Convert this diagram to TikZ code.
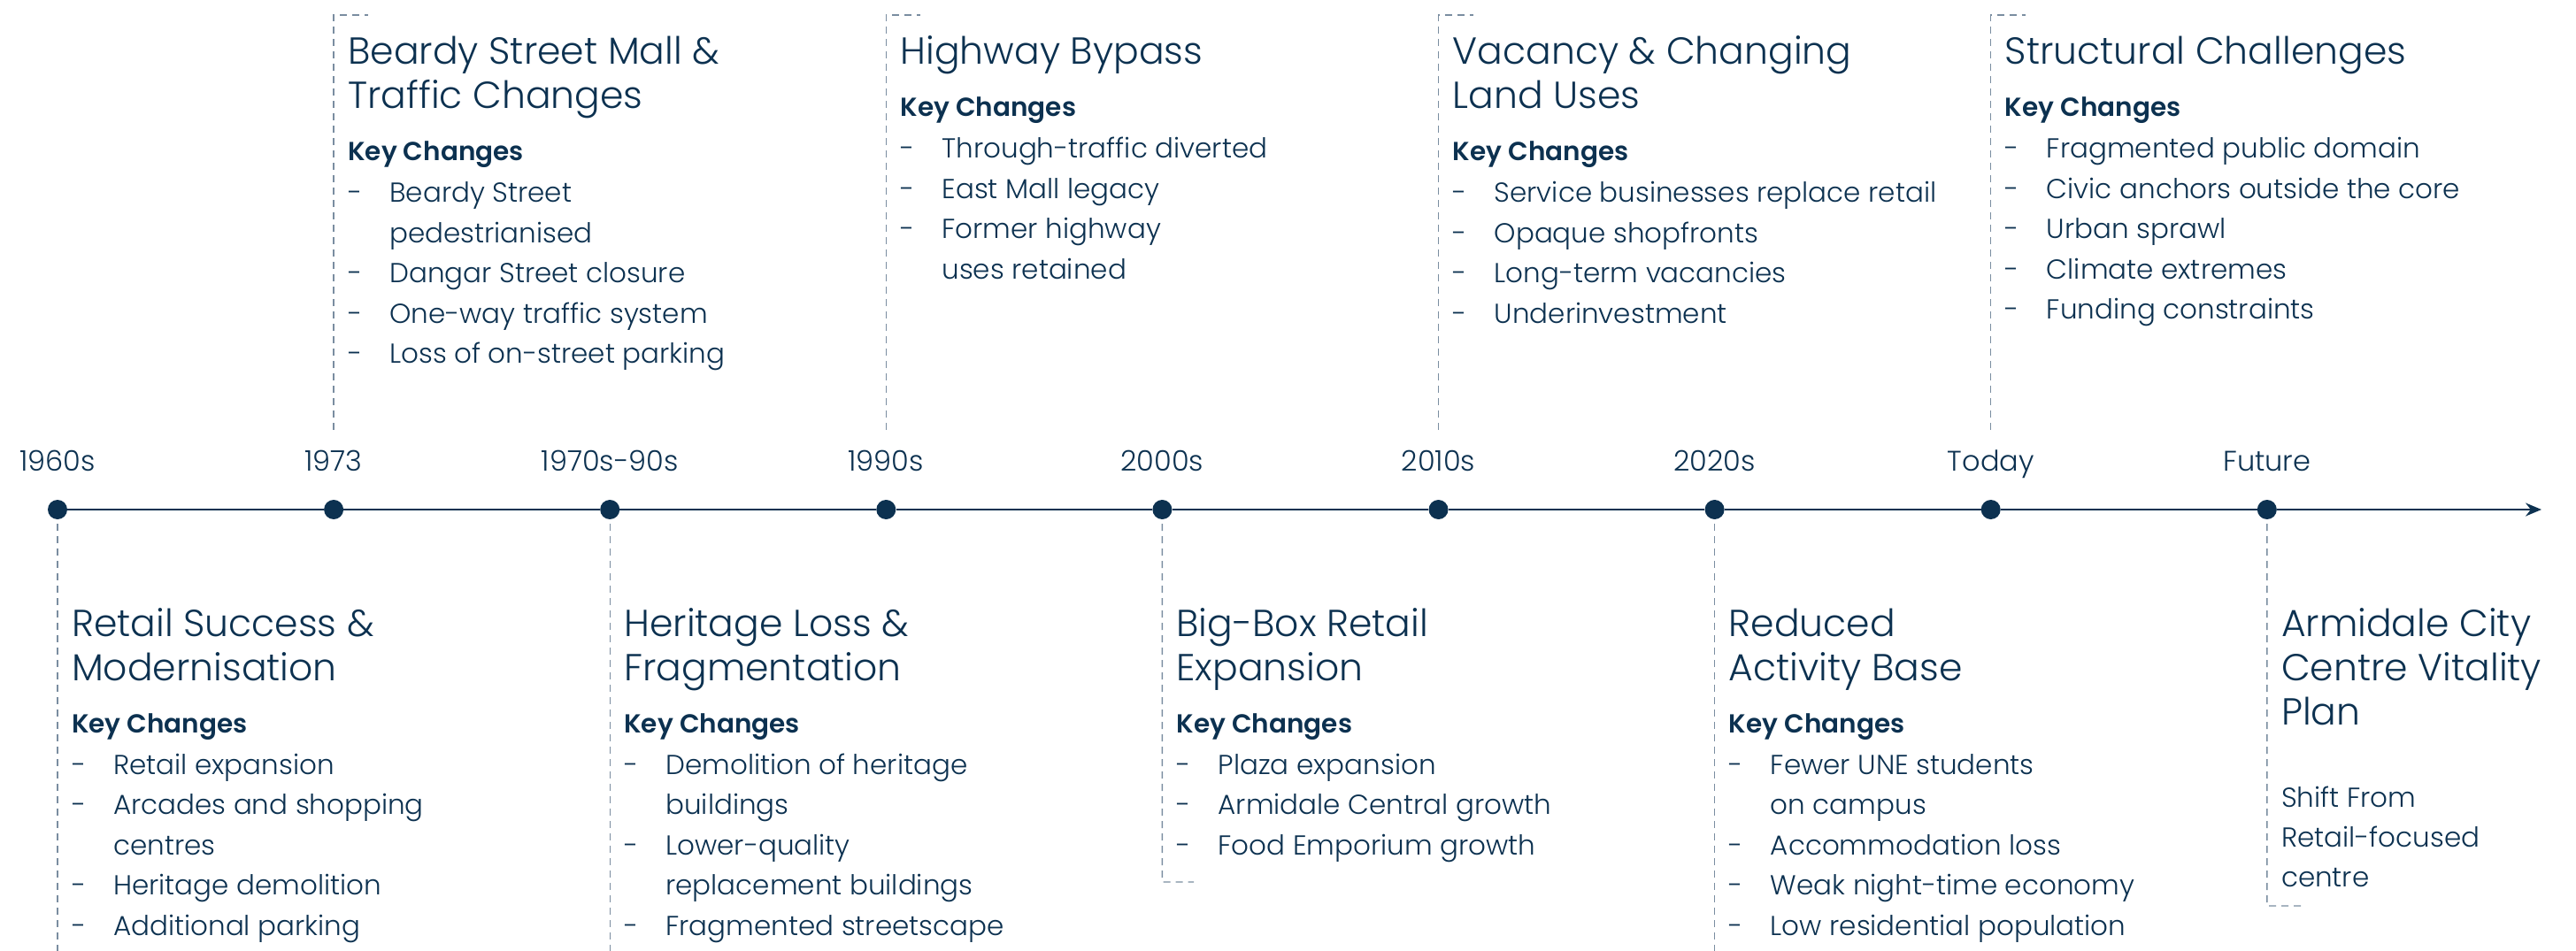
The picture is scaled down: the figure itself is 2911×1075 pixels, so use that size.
\documentclass[tikz,border=0pt]{standalone}
\usepackage{fontspec}
\setmainfont{Poppins}[UprightFont=* Light, BoldFont=* SemiBold]
\usetikzlibrary{arrows.meta}

\definecolor{navy}{HTML}{0C3150}
\definecolor{leader}{HTML}{7A8DA0}

% text building blocks for the milestone panels
\newcommand\blk[1]{\parbox[t]{600pt}{#1}}
\newcommand\bttl[1]{{\fontsize{42.5}{50}\selectfont\noindent #1\par}}
\newcommand\bkey{{\fontsize{29.5}{59}\selectfont\bfseries\noindent Key Changes\par}\vspace{1.5pt}}
\newcommand\bitem[1]{{\fontsize{31}{45.5}\selectfont\hangindent=47pt\hangafter=1\noindent\makebox[47pt][l]{-}#1\par}}
\newcommand\bline[1]{{\fontsize{31}{45}\selectfont\noindent #1\par}}

\tikzset{
  dot/.style={circle, fill=navy, minimum size=22pt, inner sep=0pt},
  yearlbl/.style={anchor=base, font=\fontsize{32}{32}\selectfont, text=navy, inner sep=0pt},
  axis/.style={draw=navy, line width=2pt},
  leaderline/.style={draw=leader, line width=1.4pt, dash pattern=on 8pt off 6pt},
  block/.style={anchor=base west, inner sep=0pt, text=navy},
}

\begin{document}
\begin{tikzpicture}[x=1pt,y=-1pt]
\useasboundingbox (0,0) rectangle (2911,1075);

% milestones on the axis
\foreach \i/\lbl in {0/1960s,1/1973,2/1970s-90s,3/1990s,4/2000s,5/2010s,6/2020s,7/Today,8/Future}{
  \node[dot] (d\i) at ({65+312.1*\i},576) {};
  \node[yearlbl] (y\i) at ({65+312.1*\i},532) {\lbl};
}
\coordinate (tend) at (2872,576);
\foreach \a/\b in {0/1,1/2,2/3,3/4,4/5,5/6,6/7,7/8}{
  \draw[axis] (d\a) -- (d\b);
}
\draw[axis, -{Stealth[length=18pt,width=15pt]}] (d8) -- (tend);

% leaders above the axis (bracket opening at the top)
\foreach \i in {1,3,5,7}{
  \coordinate (tb\i) at ({65+312.1*\i},486);
  \coordinate (tt\i) at ({65+312.1*\i},17);
  \coordinate (tr\i) at ({65+312.1*\i+39},17);
  \draw[leaderline] (tb\i) -- (tt\i) -- (tr\i);
}

% leaders below the axis
\foreach \i in {0,2,6}{
  \coordinate (bb\i) at ({65+312.1*\i},1075);
  \draw[leaderline, shorten <=5pt] (d\i) -- (bb\i);
}
\coordinate (bb4) at (1313.4,997);
\coordinate (br4) at (1349,997);
\draw[leaderline, shorten <=5pt] (d4) -- (bb4) -- (br4);
\coordinate (bb8) at (2561.8,1024);
\coordinate (br8) at (2602,1024);
\draw[leaderline, shorten <=5pt] (d8) -- (bb8) -- (br8);

% panels above the axis
\node[block] (p1973) at (393.1,73) {\blk{%
  \bttl{Beardy Street Mall \&\\Traffic Changes}\bkey
  \bitem{Beardy Street\\pedestrianised}
  \bitem{Dangar Street closure}
  \bitem{One-way traffic system}
  \bitem{Loss of on-street parking}}};

\node[block] (p1990) at (1017.3,73) {\blk{%
  \bttl{Highway Bypass}\bkey
  \bitem{Through-traffic diverted}
  \bitem{East Mall legacy}
  \bitem{Former highway\\uses retained}}};

\node[block] (p2010) at (1641.5,73) {\blk{%
  \bttl{Vacancy \& Changing\\Land Uses}\bkey
  \bitem{Service businesses replace retail}
  \bitem{Opaque shopfronts}
  \bitem{Long-term vacancies}
  \bitem{Underinvestment}}};

\node[block] (ptoday) at (2265.7,73) {\blk{%
  \bttl{Structural Challenges}\bkey
  \bitem{Fragmented public domain}
  \bitem{Civic anchors outside the core}
  \bitem{Urban sprawl}
  \bitem{Climate extremes}
  \bitem{Funding constraints}}};

% panels below the axis
\node[block] (p1960) at (81,719) {\blk{%
  \bttl{Retail Success \&\\Modernisation}\bkey
  \bitem{Retail expansion}
  \bitem{Arcades and shopping\\centres}
  \bitem{Heritage demolition}
  \bitem{Additional parking}}};

\node[block] (p1970) at (705.2,719) {\blk{%
  \bttl{Heritage Loss \&\\Fragmentation}\bkey
  \bitem{Demolition of heritage\\buildings}
  \bitem{Lower-quality\\replacement buildings}
  \bitem{Fragmented streetscape}}};

\node[block] (p2000) at (1329.4,719) {\blk{%
  \bttl{Big-Box Retail\\Expansion}\bkey
  \bitem{Plaza expansion}
  \bitem{Armidale Central growth}
  \bitem{Food Emporium growth}}};

\node[block] (p2020) at (1953.6,719) {\blk{%
  \bttl{Reduced\\Activity Base}\bkey
  \bitem{Fewer UNE students\\on campus}
  \bitem{Accommodation loss}
  \bitem{Weak night-time economy}
  \bitem{Low residential population}}};

\node[block] (pfuture) at (2577.8,719) {\blk{%
  \bttl{Armidale City\\Centre Vitality\\Plan}\vspace{48pt}
  \bline{Shift From}
  \bline{Retail-focused}
  \bline{centre}}};
\end{tikzpicture}
\end{document}
